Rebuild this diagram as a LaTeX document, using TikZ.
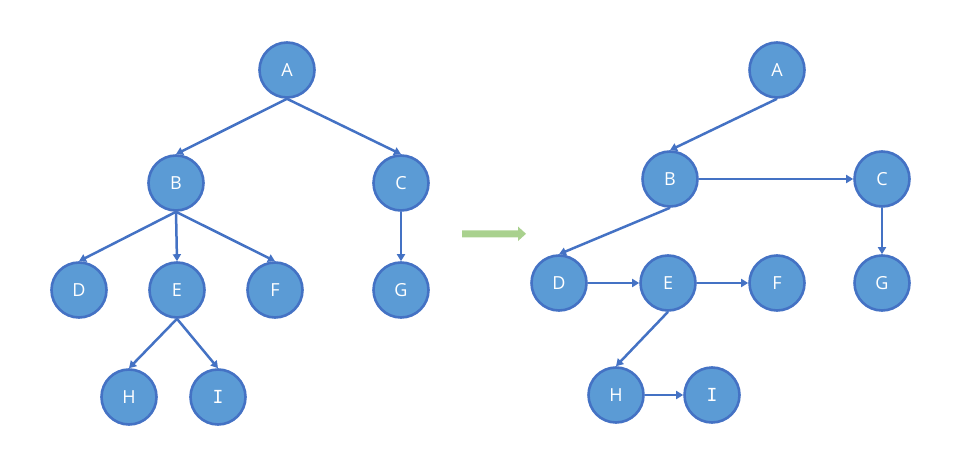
\documentclass[tikz,border=0pt]{standalone}
\usepackage{fontspec}
\setmainfont{Open Sans}
\newfontfamily\monoI{DejaVu Sans Mono}
\usetikzlibrary{arrows.meta}
\definecolor{nodefill}{RGB}{91,155,213}
\definecolor{nodeline}{RGB}{68,114,196}
\definecolor{greenarrow}{RGB}{169,209,142}
\begin{document}
\begin{tikzpicture}[x=1pt,y=-1pt,
  tnode/.style={circle, fill=nodefill, draw=nodeline, line width=2.6pt,
    minimum size=55pt, inner sep=0pt, text=white, font=\fontsize{18}{20}\selectfont},
  edge/.style={draw=nodeline, line width=2.5pt, -{Triangle[length=7pt,width=8pt]}}]
\useasboundingbox (0,0) rectangle (960,465);
% left tree
\node[tnode] (A) at (287,70) {A};
\node[tnode] (B) at (176,183) {B};
\node[tnode] (C) at (401,183) {C};
\node[tnode] (D) at (79,290) {D};
\node[tnode] (E) at (177,290) {E};
\node[tnode] (F) at (275,290) {F};
\node[tnode] (G) at (401,290) {G};
\node[tnode] (H) at (129,397) {H};
\node[tnode] (I) at (218,397) {\monoI I};
\draw[edge] (A.south) -- (B.north);
\draw[edge] (A.south) -- (C.north);
\draw[edge] (B.south) -- (D.north);
\draw[edge] (B.south) -- (E.north);
\draw[edge] (B.south) -- (F.north);
\draw[edge] (C.south) -- (G.north);
\draw[edge] (E.south) -- (H.north);
\draw[edge] (E.south) -- (I.north);
% green arrow
\fill[greenarrow] (462,230.3) -- (518,230.3) -- (518,226.5) -- (526,233.8)
  -- (518,241) -- (518,237.3) -- (462,237.3) -- cycle;
% right tree
\node[tnode] (A2) at (777,70) {A};
\node[tnode] (B2) at (670,179) {B};
\node[tnode] (C2) at (882,179) {C};
\node[tnode] (D2) at (559,283) {D};
\node[tnode] (E2) at (668,283) {E};
\node[tnode] (F2) at (777,283) {F};
\node[tnode] (G2) at (882,283) {G};
\node[tnode] (H2) at (616,395) {H};
\node[tnode] (I2) at (712,395) {\monoI I};
\draw[edge] (A2.south) -- (B2.north);
\draw[edge] (B2.east) -- (C2.west);
\draw[edge] (B2.south) -- (D2.north);
\draw[edge] (C2.south) -- (G2.north);
\draw[edge] (D2.east) -- (E2.west);
\draw[edge] (E2.east) -- (F2.west);
\draw[edge] (E2.south) -- (H2.north);
\draw[edge] (H2.east) -- (I2.west);
\end{tikzpicture}
\end{document}
